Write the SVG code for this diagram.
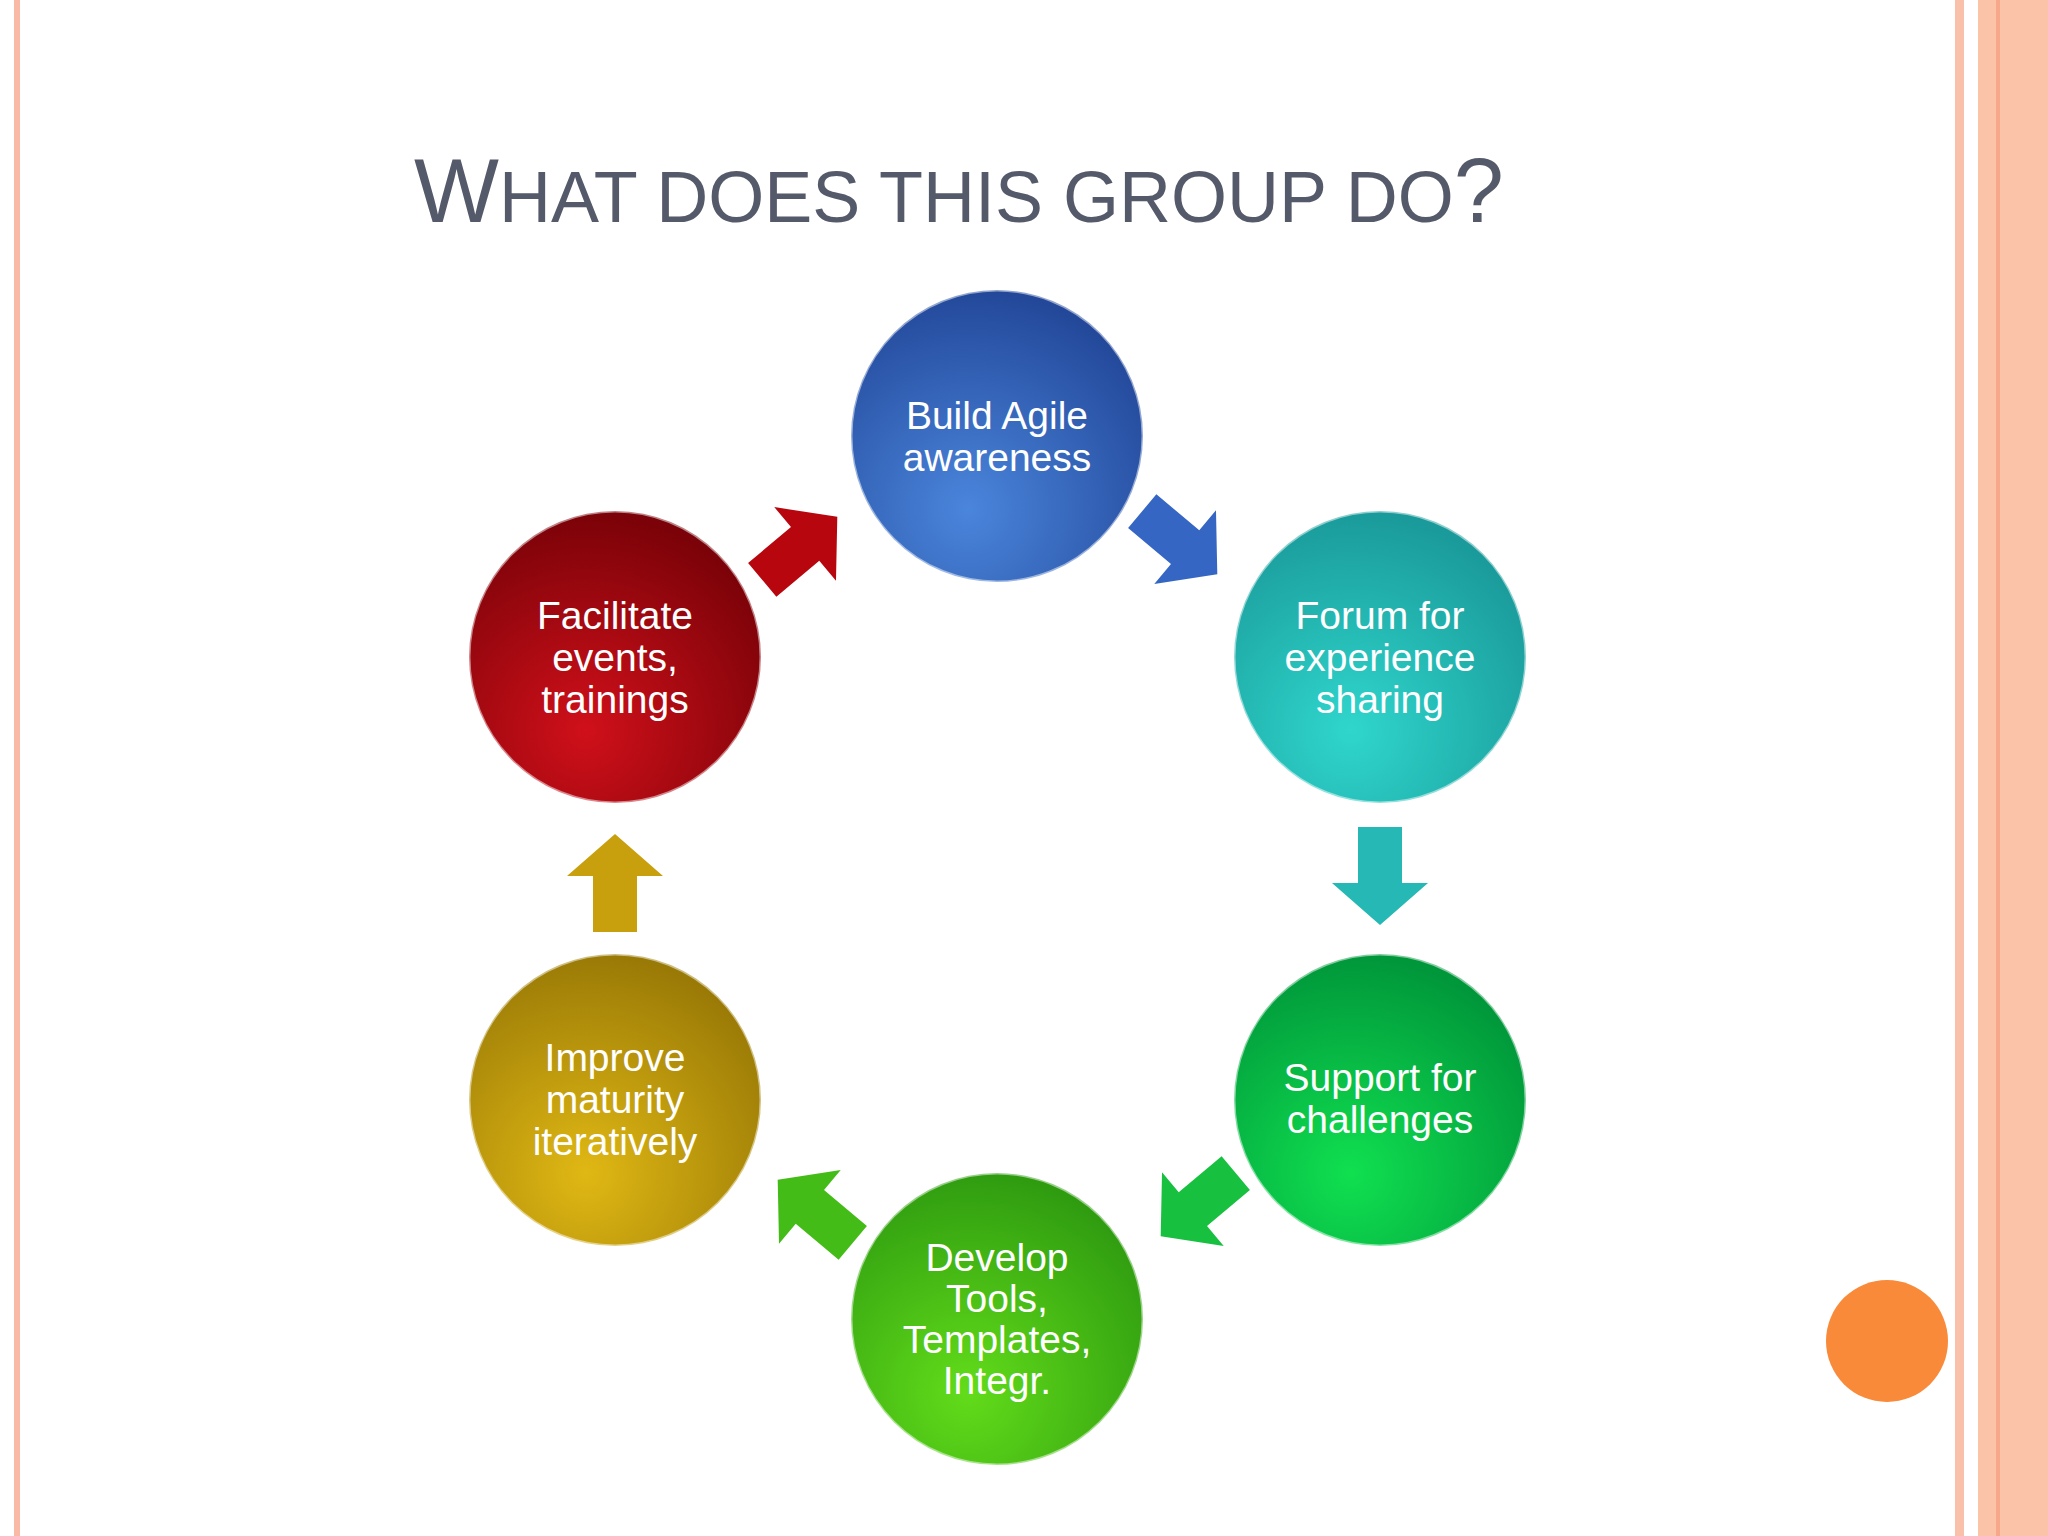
<svg xmlns="http://www.w3.org/2000/svg" width="2048" height="1536" viewBox="0 0 2048 1536">
<defs>
<radialGradient id="gB" cx="0.4" cy="0.75" r="0.75"><stop offset="0" stop-color="#4a86dc"/><stop offset="1" stop-color="#23489a"/></radialGradient>
<radialGradient id="gT" cx="0.4" cy="0.75" r="0.75"><stop offset="0" stop-color="#2fd6cc"/><stop offset="1" stop-color="#1a9a9a"/></radialGradient>
<radialGradient id="gG" cx="0.4" cy="0.75" r="0.75"><stop offset="0" stop-color="#10e050"/><stop offset="1" stop-color="#00963a"/></radialGradient>
<radialGradient id="gL" cx="0.4" cy="0.75" r="0.75"><stop offset="0" stop-color="#62dc1a"/><stop offset="1" stop-color="#2f9c10"/></radialGradient>
<radialGradient id="gY" cx="0.4" cy="0.75" r="0.75"><stop offset="0" stop-color="#e0b814"/><stop offset="1" stop-color="#9a7a06"/></radialGradient>
<radialGradient id="gR" cx="0.4" cy="0.75" r="0.75"><stop offset="0" stop-color="#d0101a"/><stop offset="1" stop-color="#7a0208"/></radialGradient>
<path id="arr" d="M-48,-22 L8,-22 L8,-48 L50,0 L8,48 L8,22 L-48,22 Z"/>
</defs>
<style>
.t{font-family:"Liberation Sans",Arial,sans-serif;font-size:39px;fill:#fff;text-anchor:middle}
.c{stroke:#ffffff;stroke-opacity:0.5;stroke-width:3}
</style>
<rect width="2048" height="1536" fill="#fff"/>
<rect x="14" y="0" width="6" height="1536" fill="#f9b9a6"/>
<rect x="1955" y="0" width="9" height="1536" fill="#f9c0aa"/>
<rect x="1978" y="0" width="70" height="1536" fill="#fbc4a8"/>
<rect x="1996" y="0" width="4" height="1536" fill="#f7a88a"/>
<text x="414" y="222" font-family="Liberation Sans,Arial,sans-serif" font-size="90" fill="#555a6a">W<tspan font-size="72">HAT DOES THIS GROUP DO</tspan>?</text>
<g id="connectors">
<use href="#arr" fill="#3566c4" transform="translate(1179,542) rotate(40)"/>
<use href="#arr" fill="#25b8b4" transform="translate(1380,875) rotate(90)"/>
<use href="#arr" fill="#18c040" transform="translate(1199,1204) rotate(140)"/>
<use href="#arr" fill="#44bc18" transform="translate(816,1212) rotate(-140)"/>
<use href="#arr" fill="#c8a00e" transform="translate(615,884) rotate(-90)"/>
<use href="#arr" fill="#b8060e" transform="translate(799,549) rotate(-40)"/>
</g>
<g id="n1"><circle class="c" cx="997" cy="436" r="146" fill="url(#gB)"/><text class="t" x="997" y="429">Build Agile</text><text class="t" x="997" y="471">awareness</text></g>
<g id="n2"><circle class="c" cx="1380" cy="657" r="146" fill="url(#gT)"/><text class="t" x="1380" y="629">Forum for</text><text class="t" x="1380" y="671">experience</text><text class="t" x="1380" y="713">sharing</text></g>
<g id="n3"><circle class="c" cx="1380" cy="1100" r="146" fill="url(#gG)"/><text class="t" x="1380" y="1091">Support for</text><text class="t" x="1380" y="1133">challenges</text></g>
<g id="n4"><circle class="c" cx="997" cy="1319" r="146" fill="url(#gL)"/><text class="t" x="997" y="1271">Develop</text><text class="t" x="997" y="1312">Tools,</text><text class="t" x="997" y="1353">Templates,</text><text class="t" x="997" y="1394">Integr.</text></g>
<g id="n5"><circle class="c" cx="615" cy="1100" r="146" fill="url(#gY)"/><text class="t" x="615" y="1071">Improve</text><text class="t" x="615" y="1113">maturity</text><text class="t" x="615" y="1155">iteratively</text></g>
<g id="n6"><circle class="c" cx="615" cy="657" r="146" fill="url(#gR)"/><text class="t" x="615" y="629">Facilitate</text><text class="t" x="615" y="671">events,</text><text class="t" x="615" y="713">trainings</text></g>
<circle cx="1887" cy="1341" r="61" fill="#f98a3a"/>
</svg>
